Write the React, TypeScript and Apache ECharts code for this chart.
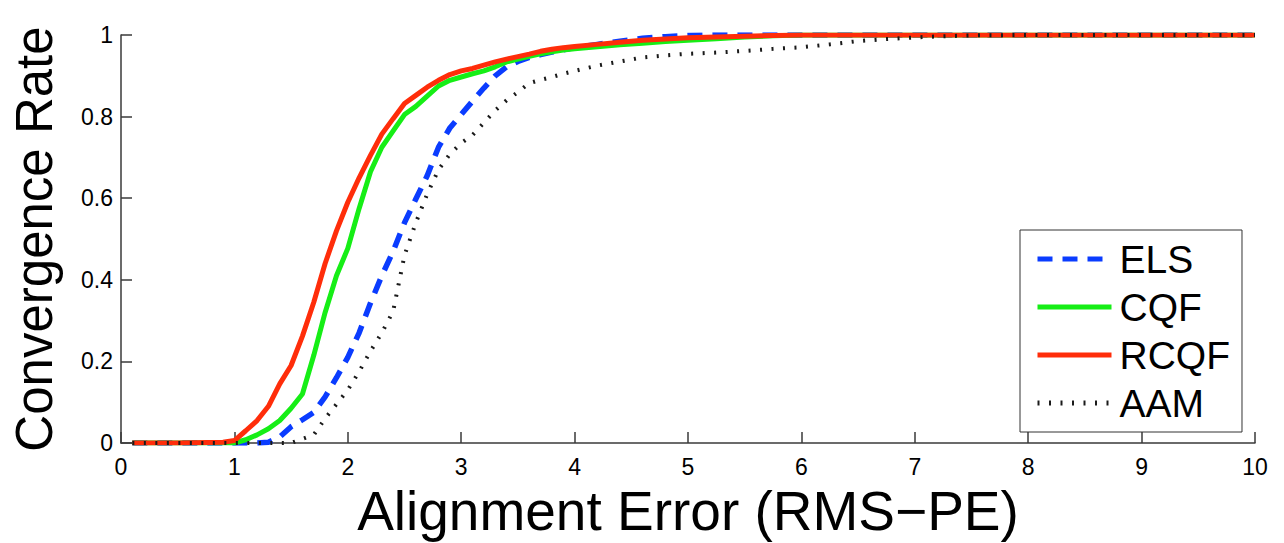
import React, { useEffect, useRef } from "react";
import * as echarts from "echarts";

const xs = [0.1, 0.5, 0.9, 1.0, 1.1, 1.2, 1.3, 1.4, 1.5, 1.6, 1.7, 1.8, 1.9, 2.0, 2.1, 2.2, 2.3, 2.4, 2.5, 2.6, 2.7, 2.8, 2.9, 3.0, 3.1, 3.2, 3.3, 3.4, 3.5, 3.6, 3.7, 3.8, 3.9, 4.0, 4.2, 4.4, 4.6, 4.8, 5.0, 5.25, 5.5, 5.75, 6.0, 6.25, 6.5, 6.75, 7.0, 7.25, 7.5, 8, 9, 10];

const els = [0, 0, 0, 0, 0, 0, 0.002, 0.015, 0.04, 0.057, 0.075, 0.113, 0.16, 0.21, 0.27, 0.343, 0.41, 0.47, 0.54, 0.598, 0.655, 0.725, 0.772, 0.805, 0.838, 0.87, 0.9, 0.922, 0.935, 0.945, 0.952, 0.958, 0.964, 0.969, 0.977, 0.985, 0.992, 0.996, 0.999, 1, 1, 1, 1, 1, 1, 1, 1, 1, 1, 1, 1, 1];

const cqf = [0, 0, 0, 0, 0.008, 0.02, 0.035, 0.055, 0.085, 0.12, 0.215, 0.32, 0.41, 0.477, 0.575, 0.665, 0.725, 0.765, 0.805, 0.825, 0.85, 0.875, 0.889, 0.897, 0.905, 0.912, 0.922, 0.934, 0.941, 0.948, 0.954, 0.959, 0.963, 0.966, 0.971, 0.976, 0.98, 0.984, 0.987, 0.991, 0.995, 0.998, 1, 1, 1, 1, 1, 1, 1, 1, 1, 1];

const rcqf = [0, 0, 0.002, 0.006, 0.03, 0.055, 0.09, 0.145, 0.19, 0.262, 0.345, 0.44, 0.52, 0.59, 0.65, 0.705, 0.757, 0.795, 0.832, 0.852, 0.872, 0.889, 0.903, 0.912, 0.918, 0.926, 0.934, 0.941, 0.947, 0.953, 0.96, 0.965, 0.969, 0.972, 0.977, 0.982, 0.987, 0.99, 0.993, 0.995, 0.997, 0.999, 1, 1, 1, 1, 1, 1, 1, 1, 1, 1];

const aam = [0, 0, 0, 0, 0, 0, 0, 0, 0, 0.01, 0.02, 0.06, 0.095, 0.13, 0.175, 0.225, 0.27, 0.323, 0.46, 0.54, 0.61, 0.67, 0.708, 0.735, 0.755, 0.785, 0.815, 0.84, 0.86, 0.882, 0.89, 0.897, 0.905, 0.912, 0.925, 0.935, 0.945, 0.95, 0.954, 0.957, 0.961, 0.966, 0.97, 0.977, 0.985, 0.99, 0.994, 0.997, 0.999, 1, 1, 1];

const seriesNames = ["ELS", "CQF", "RCQF", "AAM"];

const FONT = "Liberation Sans, Arial, Helvetica, sans-serif";

function pairs(ys: number[]) {
  return xs.map((x, i) => [x, ys[i]]);
}

export default function App() {
  const ref = useRef<HTMLDivElement>(null);
  useEffect(() => {
    if (!ref.current) return;
    const chart = echarts.init(ref.current, null, { renderer: "svg" });
    chart.setOption({
      animation: false,
      backgroundColor: "#ffffff",
      grid: { left: 121, right: 29, top: 35, bottom: 97, containLabel: false },
      xAxis: {
        type: "value",
        min: 0,
        max: 10,
        interval: 1,
        name: "Alignment Error (RMS\u2212PE)",
        nameLocation: "middle",
        nameGap: 40,
        nameTextStyle: { fontFamily: FONT, fontSize: 55, color: "#000" },
        axisLine: { show: true, lineStyle: { color: "#3a3a3a", width: 1.5 } },
        axisTick: { show: true, inside: true, length: 11, lineStyle: { color: "#3a3a3a", width: 1.5 } },
        axisLabel: { fontFamily: FONT, fontSize: 23, color: "#000", margin: 12 },
        splitLine: { show: false },
      },
      yAxis: {
        type: "value",
        min: 0,
        max: 1,
        interval: 0.2,
        name: "Convergence Rate",
        nameLocation: "middle",
        nameGap: 61,
        nameTextStyle: { fontFamily: FONT, fontSize: 51, color: "#000" },
        axisLine: { show: true, lineStyle: { color: "#3a3a3a", width: 1.5 } },
        axisTick: { show: true, inside: true, length: 11, lineStyle: { color: "#3a3a3a", width: 1.5 } },
        axisLabel: { fontFamily: FONT, fontSize: 23, color: "#000", margin: 8 },
        splitLine: { show: false },
      },
      legend: {
        data: seriesNames,
        orient: "vertical",
        left: 1020,
        top: 230,
        width: 222,
        padding: [9, 12, 9, 15],
        itemWidth: 74,
        itemHeight: 14,
        itemGap: 8,
        borderColor: "#333",
        borderWidth: 1,
        backgroundColor: "#fff",
        itemStyle: { opacity: 0 },
        lineStyle: { width: 5 },
        textStyle: { fontFamily: FONT, fontSize: 39, color: "#000", lineHeight: 40, padding: [0, 0, 0, 3] },
      },
      series: [
        {
          name: "ELS",
          type: "line",
          data: pairs(els),
          showSymbol: false,
          symbol: "none",
          z: 2,
          lineStyle: { color: "#0a3cff", width: 5.5, type: [15, 10] },
          itemStyle: { color: "#0a3cff" },
        },
        {
          name: "CQF",
          type: "line",
          data: pairs(cqf),
          showSymbol: false,
          symbol: "none",
          z: 3,
          lineStyle: { color: "#16ee16", width: 5 },
          itemStyle: { color: "#16ee16" },
        },
        {
          name: "RCQF",
          type: "line",
          data: pairs(rcqf),
          showSymbol: false,
          symbol: "none",
          z: 4,
          lineStyle: { color: "#ff2d0a", width: 5 },
          itemStyle: { color: "#ff2d0a" },
        },
        {
          name: "AAM",
          type: "line",
          data: pairs(aam),
          showSymbol: false,
          symbol: "none",
          z: 5,
          lineStyle: { color: "#1a1a1a", width: 4, type: [2, 9.5] },
          itemStyle: { color: "#1a1a1a" },
        },
      ],
    });
    return () => chart.dispose();
  }, []);
  return (
    <div
      ref={ref}
      style={{ position: "fixed", left: 0, top: 0, width: 1284, height: 543, background: "#fff" }}
    />
  );
}
